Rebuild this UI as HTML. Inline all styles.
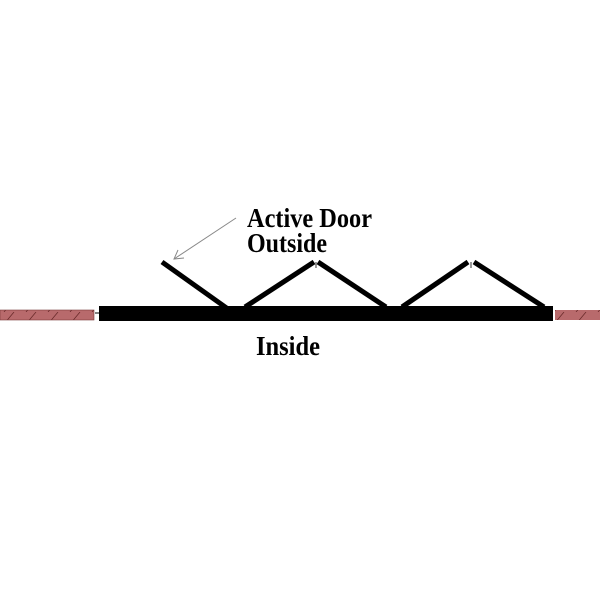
<!DOCTYPE html>
<html><head><style>
html,body{margin:0;padding:0;background:#fff;width:600px;height:600px;overflow:hidden}
</style></head><body>
<svg width="600" height="600" viewBox="0 0 600 600" xmlns="http://www.w3.org/2000/svg">
<defs>
<pattern id="h" width="22" height="12" patternUnits="userSpaceOnUse">
<line x1="4" y1="12" x2="14" y2="0" stroke="#6a2a2a" stroke-width="0.8"/>
</pattern>
</defs>
<rect x="0" y="310" width="94" height="10" fill="#b86a6c"/>
<rect x="0" y="310" width="94" height="10" fill="url(#h)"/>
<rect x="0" y="310" width="94" height="10" fill="none" stroke="#7a3a3a" stroke-width="0.6"/>
<rect x="555" y="310" width="45" height="10" fill="#b86a6c"/>
<rect x="555" y="310" width="45" height="10" fill="url(#h)"/>
<line x1="95" y1="313" x2="99" y2="313" stroke="#000" stroke-width="1"/>
<rect x="99" y="306" width="454" height="15" fill="#000"/>
<g stroke="#000" stroke-width="5" stroke-linecap="butt">
<line x1="162" y1="262" x2="228" y2="309"/>
<line x1="245" y1="307" x2="314" y2="262"/>
<line x1="318" y1="262" x2="386" y2="307"/>
<line x1="402" y1="307" x2="468" y2="262"/>
<line x1="474" y1="262" x2="544" y2="307"/>
</g>
<line x1="316" y1="262" x2="316" y2="268" stroke="#000" stroke-width="0.8"/>
<line x1="471" y1="262" x2="471" y2="268" stroke="#000" stroke-width="0.8"/>
<g stroke="#888" stroke-width="1" fill="none">
<line x1="236" y1="218" x2="174" y2="259"/>
<polyline points="178,250 174,259 184,258"/>
</g>
<g font-family="Liberation Serif, serif" font-weight="bold" font-size="27" fill="#000">
<text x="247" y="227" textLength="125" lengthAdjust="spacingAndGlyphs">Active Door</text>
<text x="247" y="252" textLength="80" lengthAdjust="spacingAndGlyphs">Outside</text>
<text x="256" y="355" textLength="64" lengthAdjust="spacingAndGlyphs">Inside</text>
</g>
</svg>
</body></html>
